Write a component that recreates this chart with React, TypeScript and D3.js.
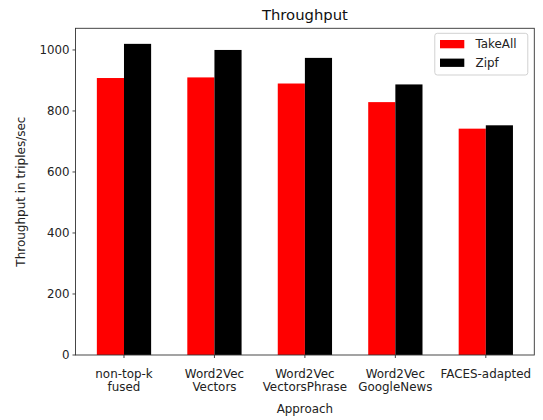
import React from "react";
import * as d3 from "d3";

const categories = ["non-top-k\nfused", "Word2Vec\nVectors", "Word2Vec\nVectorsPhrase", "Word2Vec\nGoogleNews", "FACES-adapted"];
const seriesNames = ["TakeAll", "Zipf"];
const takeAll = [908, 910, 890, 829, 742];
const zipf = [1020, 1000, 974, 887, 753];
const yTicks = [0, 200, 400, 600, 800, 1000];
const colors = ["#ff0000", "#000000"];

const W = 543, H = 420;
const left = 75.5, right = 534.3, top = 28.3, bottom = 355;
const font = "DejaVu Sans, sans-serif";

export default function App() {
  const maxV = d3.max([...takeAll, ...zipf]) as number;
  const y = d3.scaleLinear().domain([0, maxV * 1.05]).range([bottom, top]);
  const barW = 0.3;
  const x = d3.scaleLinear().domain([-0.536, categories.length - 1 + 0.536]).range([left, right]);
  const series = [takeAll, zipf];
  const tickColor = "#222";
  const cx = (left + right) / 2;
  return (
    <svg width={W} height={H} style={{ position: "absolute", left: 0, top: 0, background: "#fff" }} fontFamily={font}>
      <rect x={0} y={0} width={W} height={H} fill="#fff" />
      {series.map((vals, s) =>
        vals.map((v, i) => {
          const x0 = x(i - barW + s * barW);
          const x1 = x(i + s * barW);
          return (
            <rect key={`${s}-${i}`} x={x0} y={y(v)} width={x1 - x0} height={y(0) - y(v)} fill={colors[s]} />
          );
        })
      )}
      <rect x={left} y={top} width={right - left} height={bottom - top} fill="none" stroke="#333" strokeWidth={0.9} />
      {yTicks.map((t) => (
        <g key={t}>
          <line x1={left - 3} x2={left} y1={y(t)} y2={y(t)} stroke="#333" strokeWidth={0.9} />
          <text x={left - 6} y={y(t)} dy="0.35em" textAnchor="end" fontSize={11.8} fill={tickColor}>{t}</text>
        </g>
      ))}
      {categories.map((c, i) => (
        <g key={c}>
          <line x1={x(i)} x2={x(i)} y1={bottom} y2={bottom + 3} stroke="#333" strokeWidth={0.9} />
          {c.split("\n").map((line, k) => (
            <text key={k} x={x(i)} y={374.3 + k * 12.9} dy="0.35em" textAnchor="middle" fontSize={11.9} fill={tickColor}>{line}</text>
          ))}
        </g>
      ))}
      <text x={cx} y={15} dy="0.35em" textAnchor="middle" fontSize={14.8} fill="#111">Throughput</text>
      <text x={cx} y={409} dy="0.35em" textAnchor="middle" fontSize={11.9} fill={tickColor}>Approach</text>
      <text transform={`translate(21,${(top + bottom) / 2}) rotate(-90)`} dy="0.35em" textAnchor="middle" fontSize={12} fill={tickColor}>Throughput in triples/sec</text>
      <g>
        <rect x={434.8} y={33.3} width={93} height={41.7} rx={2.5} fill="#fff" fillOpacity={0.8} stroke="#ccc" strokeWidth={0.9} />
        {seriesNames.map((n, k) => (
          <g key={n}>
            <rect x={440} y={40 + k * 18.6} width={24.3} height={8.3} fill={colors[k]} />
            <text x={475.5} y={44.2 + k * 18.6} dy="0.35em" fontSize={11.9} fill={tickColor}>{n}</text>
          </g>
        ))}
      </g>
    </svg>
  );
}
